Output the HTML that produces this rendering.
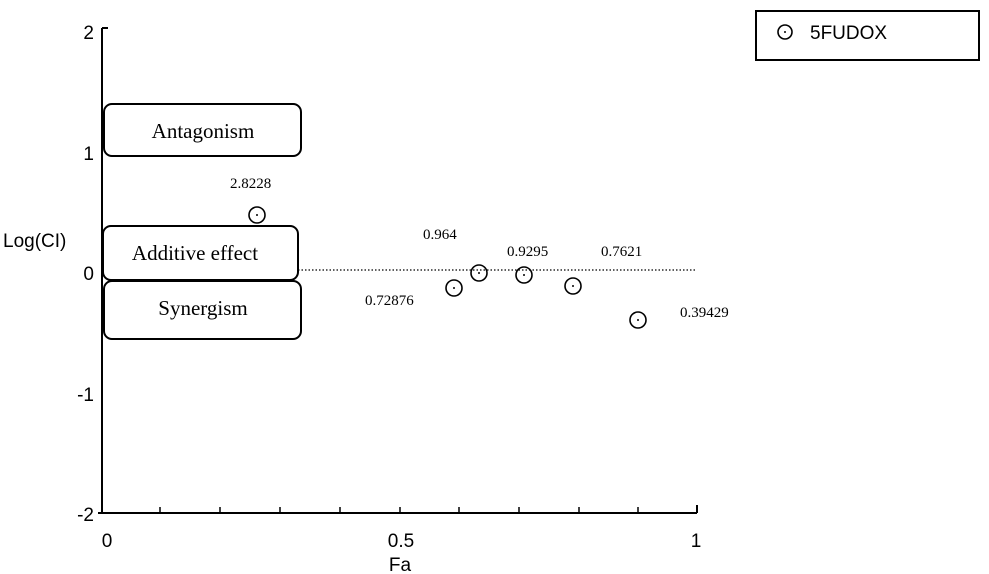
<!DOCTYPE html>
<html><head><style>body{margin:0;background:#fff}svg{display:block}</style></head><body>
<svg width="989" height="574" xmlns="http://www.w3.org/2000/svg">
<rect width="989" height="574" fill="#fff"/>
<g stroke="#000" stroke-width="2" fill="none">
<line x1="102" y1="28" x2="102" y2="513"/>
<line x1="102" y1="28" x2="108" y2="28"/>
<line x1="98" y1="513" x2="697" y2="513"/>
<line x1="697" y1="505" x2="697" y2="513"/>
</g>
<g stroke="#000" stroke-width="1.5">
<line x1="160" y1="507" x2="160" y2="513"/><line x1="220" y1="507" x2="220" y2="513"/>
<line x1="280" y1="507" x2="280" y2="513"/><line x1="340" y1="507" x2="340" y2="513"/>
<line x1="400" y1="507" x2="400" y2="513"/><line x1="459" y1="507" x2="459" y2="513"/>
<line x1="519" y1="507" x2="519" y2="513"/><line x1="579" y1="507" x2="579" y2="513"/>
<line x1="638" y1="507" x2="638" y2="513"/>
</g>
<line x1="298" y1="270" x2="697" y2="270" stroke="#000" stroke-width="1.2" stroke-dasharray="1.5,2"/>
<g font-family="Liberation Sans, sans-serif" font-size="19" fill="#000">
<text x="94" y="39" text-anchor="end">2</text>
<text x="94" y="160" text-anchor="end">1</text>
<text x="94" y="280" text-anchor="end">0</text>
<text x="94" y="401" text-anchor="end">-1</text>
<text x="94" y="521" text-anchor="end">-2</text>
<text x="3" y="247">Log(CI)</text>
<text x="107" y="547" text-anchor="middle">0</text>
<text x="401" y="547" text-anchor="middle">0.5</text>
<text x="696" y="547" text-anchor="middle">1</text>
<text x="400" y="571" text-anchor="middle">Fa</text>
<text x="810" y="39">5FUDOX</text>
</g>
<rect x="756" y="11" width="223" height="49" fill="none" stroke="#000" stroke-width="2"/>
<g fill="none" stroke="#000" stroke-width="2">
<rect x="104" y="104" width="197" height="52" rx="8"/>
<rect x="103" y="226" width="195" height="54" rx="8"/>
<rect x="104" y="281" width="197" height="58" rx="8"/>
</g>
<g font-family="Liberation Serif, serif" font-size="21" fill="#000" text-anchor="middle">
<text x="203" y="138">Antagonism</text>
<text x="195" y="260">Additive effect</text>
<text x="203" y="315">Synergism</text>
</g>
<g font-family="Liberation Serif, serif" font-size="15" fill="#000">
<text x="230" y="188">2.8228</text>
<text x="423" y="239">0.964</text>
<text x="507" y="256">0.9295</text>
<text x="601" y="256">0.7621</text>
<text x="365" y="305">0.72876</text>
<text x="680" y="317">0.39429</text>
</g>
<g fill="none" stroke="#000" stroke-width="1.6">
<circle cx="257" cy="215" r="8"/><circle cx="454" cy="288" r="8"/><circle cx="479" cy="273" r="8"/>
<circle cx="524" cy="275" r="8"/><circle cx="573" cy="286" r="8"/><circle cx="638" cy="320" r="8"/>
<circle cx="785" cy="32" r="7"/>
</g>
<g fill="#000">
<circle cx="257" cy="215" r="1"/><circle cx="454" cy="288" r="1"/><circle cx="479" cy="273" r="1"/>
<circle cx="524" cy="275" r="1"/><circle cx="573" cy="286" r="1"/><circle cx="638" cy="320" r="1"/>
<circle cx="785" cy="32" r="1"/>
</g>
</svg>
</body></html>
